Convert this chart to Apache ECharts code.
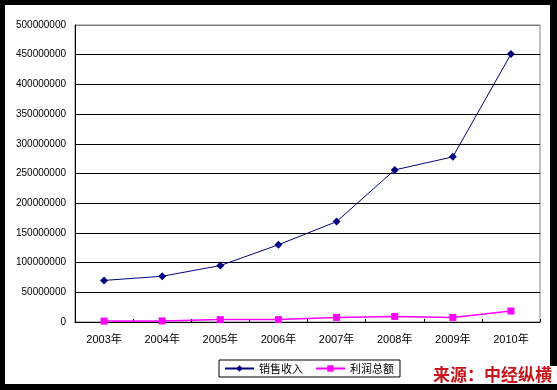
<!DOCTYPE html>
<html>
<head>
<meta charset="utf-8">
<script src="https://cdn.jsdelivr.net/npm/echarts@6/dist/echarts.min.js"></script>
<style>
html,body{margin:0;padding:0;background:#000;}
#frame{position:absolute;left:5px;top:5px;width:545px;height:379px;background:#fff;}
#chart{position:absolute;left:0;top:0;width:557px;height:390px;}
</style>
</head>
<body>
<div id="frame"></div>
<div id="chart"></div>
<script>
const categories = ['2003年','2004年','2005年','2006年','2007年','2008年','2009年','2010年'];
const salesName = '销售收入';
const profitName = '利润总额';
const sales = [70000000, 77000000, 95000000, 130000000, 169000000, 256000000, 278000000, 451000000];
const profit = [1500000, 1800000, 4000000, 4000000, 7700000, 9400000, 7700000, 18500000];
const sourceText = '来源：中经纵横';

const chart = echarts.init(document.getElementById('chart'), null, {renderer:'canvas'});
const splitColors = ['#000','#000','#000','#000','#000','#000','#000','#000','#000','#000','#808080'];
chart.setOption({
  backgroundColor: 'transparent',
  animation: false,
  grid: {left: 75, right: 17, top: 25, bottom: 68, show: true, borderColor: '#808080', borderWidth: 1, backgroundColor: 'transparent'},
  legend: {
    left: 219, top: 360,
    padding: [3, 6, 3, 5],
    borderColor: '#000', borderWidth: 1,
    itemWidth: 29, itemHeight: 8, itemGap: 12,
    textStyle: {fontSize: 11, color: '#000', fontFamily: '"Noto Sans CJK SC", sans-serif'},
    data: [salesName, profitName]
  },
  xAxis: {
    type: 'category',
    data: categories,
    boundaryGap: true,
    axisLine: {lineStyle: {color: '#000', width: 1}},
    axisTick: {show: true, inside: true, length: 3, lineStyle: {color: '#000'}},
    axisLabel: {fontSize: 11, color: '#000', margin: 12, fontFamily: '"Liberation Sans", "Noto Sans CJK SC", sans-serif'},
    splitLine: {show: false}
  },
  yAxis: {
    type: 'value',
    min: 0, max: 500000000, interval: 50000000,
    axisLine: {show: true, lineStyle: {color: '#000', width: 1}},
    axisTick: {show: false},
    axisLabel: {fontSize: 10, color: '#000', margin: 9, fontFamily: '"Liberation Sans", sans-serif',
      formatter: function (v) { return String(v); }},
    splitLine: {show: true, lineStyle: {color: splitColors, width: 1}}
  },
  series: [
    {
      name: salesName, type: 'line', data: sales,
      symbol: 'diamond', symbolSize: 8,
      lineStyle: {color: '#000080', width: 1},
      itemStyle: {color: '#000080'}
    },
    {
      name: profitName, type: 'line', data: profit,
      symbol: 'rect', symbolSize: 7,
      lineStyle: {color: '#ff00ff', width: 1.5},
      itemStyle: {color: '#ff00ff'}
    }
  ],
  graphic: [
    {type: 'rect', shape: {x: 430, y: 366, width: 127, height: 18}, style: {fill: '#fff'}, z: 50},
    {type: 'text', left: 433, top: 366, z: 51,
     style: {text: sourceText, fill: '#c8161d', font: 'bold 17px "Noto Sans CJK SC", sans-serif'}}
  ]
});
</script>
</body>
</html>
